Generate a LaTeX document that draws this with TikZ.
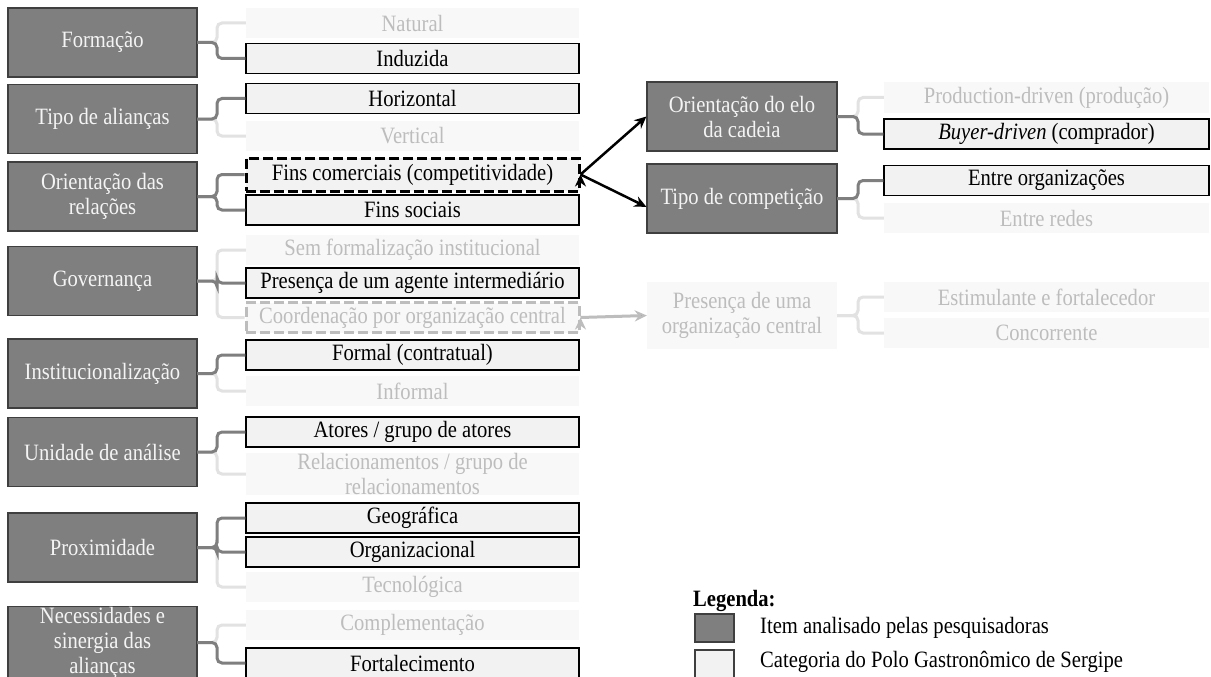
\documentclass[tikz,border=0pt]{standalone}
\usepackage{fontspec}
\setmainfont[FakeStretch=0.88]{Liberation Serif}
\usepackage{tikz}
\usetikzlibrary{arrows.meta}
\usetikzlibrary{positioning}

\definecolor{itemfill}{HTML}{7F7F7F}
\definecolor{itemline}{HTML}{3F3F3F}
\definecolor{itemtext}{HTML}{F4F4F4}
\definecolor{catfill}{HTML}{F2F2F2}
\definecolor{offfill}{HTML}{F8F8F8}
\definecolor{offtext}{HTML}{BDBDBD}
\definecolor{linkon}{HTML}{7F7F7F}
\definecolor{linkoff}{HTML}{E2E2E2}

\begin{document}
\begin{tikzpicture}[x=1pt,y=-1pt,
    every node/.style={font=\fontsize{23.4}{25}\selectfont,inner sep=0pt,align=center},
    item/.style={rectangle,fill=itemfill,draw=itemline,line width=1.2pt,text=itemtext,
      minimum width=189pt,minimum height=69pt},
    caton/.style={rectangle,fill=catfill,draw=black,line width=1.2pt,text=black,
      minimum width=333pt,minimum height=30pt},
    catoff/.style={rectangle,fill=offfill,text=offtext,
      minimum width=333pt,minimum height=30pt},
    lnkon/.style={draw=linkon,line width=3pt,rounded corners=5pt},
    lnkoff/.style={draw=linkoff,line width=3pt,rounded corners=5pt}]

  \useasboundingbox (0,0) rectangle (1211,677);
  \fill [white] (0,0) rectangle (1211,677);
  \clip (0,0) rectangle (1211,677);

  % left column
  \node [item] (formacao) at (102.5,42.5) {Formação};
  \node [item] (tipo)     at (102.5,119)  {Tipo de alianças};
  \node [item] (orient)   at (102.5,196.5) {Orientação das\\relações};
  \node [item] (gov)      at (102.5,281)  {Governança};
  \node [item] (inst)     at (102.5,373.5) {Institucionalização};
  \node [item] (unid)     at (102.5,452)  {Unidade de análise};
  \node [item] (prox)     at (102.5,547.5) {Proximidade};
  \node [item,minimum height=71pt] (neces) at (102.5,642.5) {Necessidades e\\sinergia das\\alianças};

  \node [catoff] (natural)  at (412.5,23)   {Natural};
  \node [caton]  (induzida) at (412.5,58.5) {Induzida};
  \node [caton]  (horiz)    at (412.5,98.5) {Horizontal};
  \node [catoff] (vert)     at (412.5,136)  {Vertical};
  \node [caton,draw=black,line width=3pt,dash pattern=on 10pt off 4pt,minimum height=33pt]
    (comerc) at (412.5,174.5) {Fins comerciais (competitividade)};
  \node [caton]  (sociais)  at (412.5,210)  {Fins sociais};
  \node [catoff] (semform)  at (412.5,250)  {Sem formalização institucional};
  \node [caton]  (agente)   at (412.5,283)  {Presença de um agente intermediário};
  \node [catoff,draw=offtext,line width=3pt,dash pattern=on 10pt off 4pt]
    (coord) at (412.5,317.5) {Coordenação por organização central};
  \node [caton]  (formal)   at (412.5,355)  {Formal (contratual)};
  \node [catoff] (informal) at (412.5,391)  {Informal};
  \node [caton]  (atores)   at (412.5,432)  {Atores / grupo de atores};
  \node [catoff,minimum height=42pt] (relac) at (412.5,474) {Relacionamentos / grupo de\\relacionamentos};
  \node [caton]  (geog)     at (412.5,518)  {Geográfica};
  \node [caton]  (organiz)  at (412.5,552)  {Organizacional};
  \node [catoff] (tecno)    at (412.5,587)  {Tecnológica};
  \node [catoff] (complem)  at (412.5,625)  {Complementação};
  \node [caton]  (fortal)   at (412.5,663)  {Fortalecimento};

  % right column
  \node [item,minimum width=190pt] (elo)  at (742,116.5) {Orientação do elo\\da cadeia};
  \node [item,minimum width=190pt] (comp) at (742,198.5) {Tipo de competição};
  \node [catoff,minimum width=190pt,minimum height=67pt] (presorg) at (742,315.5) {Presença de uma\\organização central};

  \node [catoff,minimum width=325pt] (prod)     at (1046.5,97.5) {Production-driven (produção)};
  \node [caton,minimum width=325pt]  (buyer)    at (1046.5,134)  {\textit{Buyer-driven} (comprador)};
  \node [caton,minimum width=325pt]  (entreorg) at (1046.5,180.5) {Entre organizações};
  \node [catoff,minimum width=325pt] (redes)    at (1046.5,218)  {Entre redes};
  \node [catoff,minimum width=325pt] (estim)    at (1046.5,297)  {Estimulante e fortalecedor};
  \node [catoff,minimum width=325pt] (concor)   at (1046.5,333)  {Concorrente};

  \coordinate (bl) at (217,0);
  \coordinate (br) at (858,0);

  % brackets, light ones first
  \draw [lnkoff] (formacao.east) -- (formacao.east -| bl) |- (natural.west);
  \draw [lnkoff] (tipo.east) -- (tipo.east -| bl) |- (vert.west);
  \draw [lnkoff] (gov.east) -- (gov.east -| bl) |- (semform.west);
  \draw [lnkoff] (gov.east) -- (gov.east -| bl) |- (coord.west);
  \draw [lnkoff] (inst.east) -- (inst.east -| bl) |- (informal.west);
  \draw [lnkoff] (unid.east) -- (unid.east -| bl) |- (relac.west);
  \draw [lnkoff] (prox.east) -- (prox.east -| bl) |- (tecno.west);
  \draw [lnkoff] (neces.east) -- (neces.east -| bl) |- (complem.west);
  \draw [lnkoff] (elo.east) -- (elo.east -| br) |- (prod.west);
  \draw [lnkoff] (comp.east) -- (comp.east -| br) |- (redes.west);
  \draw [lnkoff] (presorg.east) -- (presorg.east -| br) |- (estim.west);
  \draw [lnkoff] (presorg.east) -- (presorg.east -| br) |- (concor.west);

  \draw [lnkon] (formacao.east) -- (formacao.east -| bl) |- (induzida.west);
  \draw [lnkon] (tipo.east) -- (tipo.east -| bl) |- (horiz.west);
  \draw [lnkon] (orient.east) -- (orient.east -| bl) |- (comerc.west);
  \draw [lnkon] (orient.east) -- (orient.east -| bl) |- (sociais.west);
  \draw [lnkon] (gov.east) -- (gov.east -| bl) |- (agente.west);
  \draw [lnkon] (inst.east) -- (inst.east -| bl) |- (formal.west);
  \draw [lnkon] (unid.east) -- (unid.east -| bl) |- (atores.west);
  \draw [lnkon] (prox.east) -- (prox.east -| bl) |- (geog.west);
  \draw [lnkon] (prox.east) -- (prox.east -| bl) |- (organiz.west);
  \draw [lnkon] (neces.east) -- (neces.east -| bl) |- (fortal.west);
  \draw [lnkon] (elo.east) -- (elo.east -| br) |- (buyer.west);
  \draw [lnkon] (comp.east) -- (comp.east -| br) |- (entreorg.west);

  \path [draw,line width=2.5pt,->,>={Stealth[length=12pt,width=11pt]}]
    (comerc.east) edge (elo.west)
    (comerc.east) edge (comp.185);

  \path [draw=offtext,line width=3pt,->,>={Stealth[length=12pt,width=11pt]}]
    (coord.east) edge (presorg.west);

  % legend
  \node [anchor=west,font=\fontsize{23.4}{25}\selectfont\bfseries] (leg) at (693,601) {Legenda:};
  \node [rectangle,fill=itemfill,draw=itemline,line width=1.2pt,minimum width=39pt,minimum height=28pt]
    (legitem) at (714.5,628) {};
  \node [rectangle,fill=catfill,draw=itemline,line width=1.2pt,minimum width=39pt,minimum height=28pt]
    (legcat) at (714.5,664) {};
  \node [anchor=west] (legitemtxt) at (760,628) {Item analisado pelas pesquisadoras};
  \node [anchor=west] (legcattxt)  at (760,662) {Categoria do Polo Gastronômico de Sergipe};

\end{tikzpicture}
\end{document}
